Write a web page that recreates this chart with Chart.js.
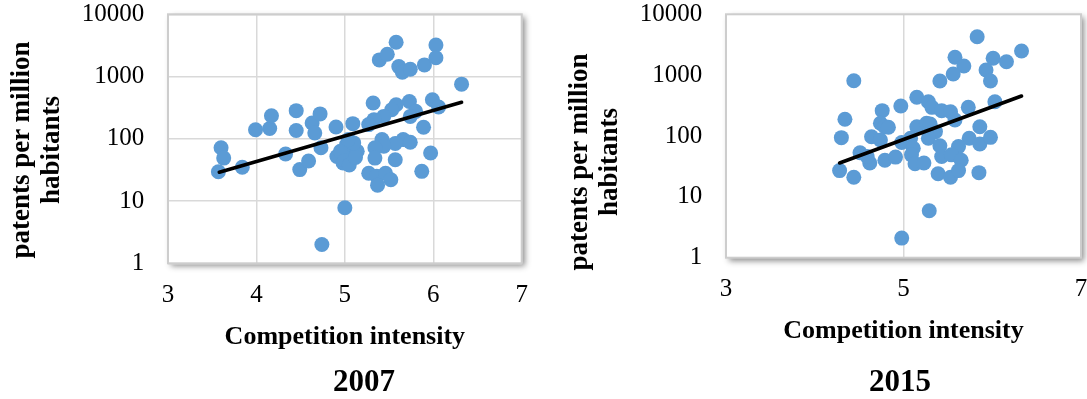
<!DOCTYPE html>
<html>
<head>
<meta charset="utf-8">
<script src="https://cdn.jsdelivr.net/npm/chart.js@4/dist/chart.umd.min.js"></script>
<style>
  html, body { margin: 0; padding: 0; background: #fff; }
  #wrap { position: relative; width: 1087px; height: 399px; overflow: hidden; background: #fff; }
  .panel { position: absolute; top: 0; height: 399px; }
  .ytitle {
    position: absolute; width: 300px; height: 60px;
    font: bold 27px "Liberation Serif", "Times New Roman", serif;
    line-height: 30px; text-align: center; color: #000;
    transform: rotate(-90deg); white-space: nowrap;
  }
  .year {
    position: absolute; width: 200px; height: 36px; line-height: 36px;
    font: bold 31px "Liberation Serif", "Times New Roman", serif;
    text-align: center; color: #000;
  }
</style>
</head>
<body>
<div id="wrap">
  <canvas id="c2007" class="panel" style="left:0;width:540px;height:399px" width="540" height="399"></canvas>
  <canvas id="c2015" class="panel" style="left:540px;width:547px;height:399px" width="547" height="399"></canvas>
  <div class="ytitle" style="left:-115px;top:119.5px">patents per million<br>habitants</div>
  <div class="ytitle" style="left:443px;top:132px">patents per million<br>habitants</div>
  <div class="year" style="left:264px;top:363px">2007</div>
  <div class="year" style="left:800px;top:363px">2015</div>
</div>
<script>
// Competition intensity (x) vs patents per million habitants (y), one point per country
const comp2007 = [3.57, 3.60, 3.63, 3.84, 3.99, 4.15, 4.17, 4.33, 4.45, 4.45, 4.49, 4.59, 4.63, 4.66, 4.72, 4.73,
  4.74, 4.90, 5.00, 5.58, 5.39, 5.48, 5.61, 5.65, 5.74, 5.90, 6.03, 6.03, 6.32, 5.99, 6.06, 5.73, 5.80, 5.74,
  5.58, 5.53, 5.32, 5.44, 5.33, 5.27, 5.09, 5.89, 5.66, 5.74, 5.57, 5.42, 5.44, 5.34, 5.34, 5.57, 5.97, 5.87,
  5.27, 5.36, 5.46, 5.52, 5.37, 4.91, 4.98, 5.06, 5.14, 5.02, 4.95, 5.10, 5.04, 5.00, 5.05, 5.12];
const pat2007 = [29.5, 72, 49, 35, 140, 146, 235, 57, 283, 136, 32, 44, 179, 124, 251, 72,
  2, 155, 7.8, 3550, 1850, 2280, 1445, 1175, 1312, 1540, 3215, 2000, 755, 424, 324, 398, 276, 229,
  352, 293, 375, 229, 203, 169, 175, 153, 97, 88, 84, 97, 76, 72, 49, 46, 59, 30,
  28, 25, 28, 22, 18, 52, 41, 59, 63, 81, 63, 86, 97, 45, 38, 50];

const comp2015 = [4.44, 4.34, 4.30, 4.28, 4.44, 4.51, 4.76, 4.74, 4.79, 4.64, 4.74, 4.62, 4.59, 4.79,
  5.83, 6.33, 5.58, 5.68, 5.56, 5.41, 6.01, 6.16, 5.93, 5.98, 6.03, 5.73, 5.86, 5.74, 5.86, 5.98, 5.85,
  5.29, 4.98, 4.97, 5.15, 5.28, 5.32, 5.43, 5.53, 5.58, 5.15, 5.26, 5.36, 5.28, 4.98, 5.08, 5.11, 5.09,
  5.13, 5.23, 4.91, 5.41, 5.62, 5.43, 5.54, 5.65, 5.39, 5.53, 5.62, 4.83, 5.30];
const pat2015 = [811, 188, 94, 27, 21, 53, 261, 162, 142, 97, 86, 36, 46, 40,
  4280, 2495, 1965, 1414, 1045, 801, 1892, 1664, 1216, 801, 366, 296, 142, 92, 74, 95, 25,
  5.9, 2.1, 311, 433, 366, 296, 261, 251, 183, 142, 162, 118, 92, 78, 92, 63, 49,
  35, 36, 45, 69, 67, 46, 49, 40, 24, 21, 27, 139, 157];

// Exponential trend line end points (x, y)
const trendX2007 = [3.58, 6.32];
const trendY2007 = [29, 386];
const trendX2015 = [4.28, 6.33];
const trendY2015 = [36, 454];

// Axis ticks
const xTicks2007 = [3, 4, 5, 6, 7];
const xTicks2015 = [3, 5, 7];
const yTicks = [1, 10, 100, 1000, 10000];

const FONT = '"Liberation Serif", "Times New Roman", serif';
const POINT_BLUE = '#5b9bd5';
const GRID = '#d9d9d9';

// White plot area with a soft drop shadow, and a light frame around it
const plotFrame = {
  id: 'plotFrame',
  beforeDraw(chart) {
    const { ctx, chartArea: a } = chart;
    ctx.save();
    ctx.shadowColor = 'rgba(0,0,0,0.45)';
    ctx.shadowBlur = 6;
    ctx.shadowOffsetX = 3;
    ctx.shadowOffsetY = 3;
    ctx.fillStyle = '#ffffff';
    ctx.fillRect(a.left, a.top, a.right - a.left, a.bottom - a.top);
    ctx.restore();
  },
  beforeDatasetsDraw(chart) {
    const { ctx, chartArea: a } = chart;
    ctx.save();
    ctx.strokeStyle = '#cdcdcd';
    ctx.lineWidth = 2;
    ctx.strokeRect(a.left, a.top, a.right - a.left, a.bottom - a.top);
    ctx.restore();
  }
};

function toPoints(xs, ys) {
  return xs.map((x, i) => ({ x: x, y: ys[i] }));
}

function makeChart(id, cfg) {
  return new Chart(document.getElementById(id), {
    type: 'scatter',
    data: {
      datasets: [
        {
          type: 'line',
          data: toPoints(cfg.trendX, cfg.trendY),
          borderColor: '#000',
          borderWidth: 3.6,
          borderCapStyle: 'round',
          pointRadius: 0,
          fill: false
        },
        {
          data: toPoints(cfg.xs, cfg.ys),
          backgroundColor: POINT_BLUE,
          borderWidth: 0,
          pointRadius: 7.5,
          pointHoverRadius: 7.5
        }
      ]
    },
    options: {
      responsive: false,
      maintainAspectRatio: false,
      animation: false,
      events: [],
      layout: {
        autoPadding: false,
        padding: { left: 0, top: 14.3, right: cfg.padRight, bottom: cfg.padBottom }
      },
      plugins: { legend: { display: false }, tooltip: { enabled: false } },
      scales: {
        x: {
          type: 'linear',
          min: 3,
          max: 7,
          afterBuildTicks: s => { s.ticks = cfg.xTicks.map(v => ({ value: v })); },
          afterFit: s => {
            s.height = cfg.xAxisHeight;
            s.paddingLeft = 0;
            s.paddingRight = 0;
          },
          ticks: {
            color: '#000',
            font: { family: FONT, size: 25, lineHeight: 1 },
            padding: cfg.xTickPad,
            maxRotation: 0,
            autoSkip: false
          },
          grid: { display: true, color: GRID, lineWidth: 1.5, drawTicks: false },
          border: { display: false },
          title: {
            display: true,
            text: 'Competition intensity',
            color: '#000',
            font: { family: FONT, size: 26, weight: 'bold', lineHeight: 1.2 },
            padding: 0
          }
        },
        y: {
          type: 'logarithmic',
          min: 1,
          max: 10000,
          afterBuildTicks: s => { s.ticks = yTicks.map(v => ({ value: v })); },
          afterFit: s => {
            s.width = cfg.yAxisWidth;
            s.paddingTop = 0;
            s.paddingBottom = 0;
          },
          ticks: {
            color: '#000',
            font: { family: FONT, size: 25, lineHeight: 1 },
            padding: 23.7,
            autoSkip: false,
            callback: v => String(v)
          },
          grid: { display: cfg.hGrid, color: GRID, lineWidth: 1.5, drawTicks: false },
          border: { display: false }
        }
      }
    },
    plugins: [plotFrame]
  });
}

makeChart('c2007', {
  xs: comp2007, ys: pat2007, trendX: trendX2007, trendY: trendY2007,
  xTicks: xTicks2007, hGrid: true,
  padRight: 18.3, padBottom: 46.4, xAxisHeight: 89.3, yAxisWidth: 168, xTickPad: 19.5
});

makeChart('c2015', {
  xs: comp2015, ys: pat2015, trendX: trendX2015, trendY: trendY2015,
  xTicks: xTicks2015, hGrid: false,
  padRight: 6, padBottom: 52.4, xAxisHeight: 88.9, yAxisWidth: 186, xTickPad: 19.3
});
</script>
</body>
</html>
